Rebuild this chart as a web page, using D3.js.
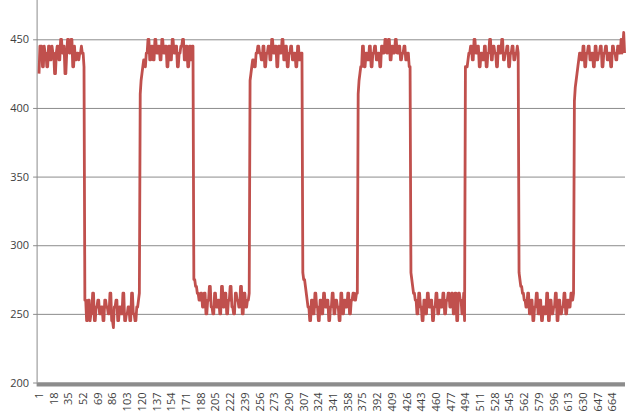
<!DOCTYPE html>
<html>
<head>
<meta charset="utf-8">
<script src="https://cdn.jsdelivr.net/npm/d3@7"></script>
<style>
  html, body { margin: 0; padding: 0; background: #fff; }
  svg { display: block; }
  text { font-family: "Open Sans", "DejaVu Sans", sans-serif; }
</style>
</head>
<body>
<svg id="chart" width="640" height="418"></svg>
<script>
// ---- data ----
const high1 = [425,445,445,445,430,430,445,440,440,430,430,445,445,435,435,445,440,440,425,425,440,445,445,435,435,450,450,440,445,445,425,425,440,450,450,440,440,450,450,430,430,445,435,435,440,440,435,440,440,445,440,440,430];
const low1 = [260,260,245,245,260,260,245,250,250,265,265,245,245,255,255,260,260,250,250,255,255,245,245,260,260,255,255,250,250,265,265,245,245,240,255,255,260,260,245,245,255,255,250,250,265,265,245,245,250,250,255,255,245,245,265,265,250,250,245,245,255,255,260,265];
const high2 = [410,420,425,430,435,435,430,440,440,450,450,435,435,445,445,435,435,450,450,440,440,445,445,435,435,450,450,440,440,445,445,430,430,445,445,435,435,450,450,440,440,445,445,430,430,440,440,445,445,450,450,435,435,445,445,430,430,445,445,435,445,445];
const low2 = [275,275,270,270,265,265,260,260,265,265,255,255,265,265,250,250,260,260,270,270,255,255,250,250,265,265,255,255,260,260,250,250,270,270,255,255,265,265,250,250,260,260,270,270,255,255,250,250,265,265,260,260,255,255,270,270,250,250,265,265,255,255,260,260,265];
const high3 = [420,425,430,435,435,430,430,440,440,445,445,440,440,435,435,445,445,430,430,440,440,445,445,435,435,450,450,440,440,445,445,430,430,445,445,440,440,450,450,435,435,445,445,430,430,440,440,445,445,435,435,440,440,430,430,445,445,435,435,440,440];
const low3 = [280,275,275,270,265,260,255,255,245,245,260,260,250,250,265,265,255,255,245,245,260,260,250,250,265,265,255,255,260,260,245,245,255,255,265,265,250,250,260,260,255,255,245,245,265,265,250,250,260,260,255,255,265,265,250,250,260,260,265,265,260,260,265,265];
const high4 = [410,420,425,430,430,445,445,430,430,440,440,435,435,445,445,430,430,440,440,445,445,435,435,440,440,430,430,445,445,440,440,450,450,440,440,450,450,435,435,445,445,440,440,450,450,440,440,445,445,435,435,440,440,445,445,435,435,440,440,430,430];
const low4 = [280,275,270,265,265,260,260,250,250,265,265,255,255,245,245,260,260,250,250,265,265,255,255,260,260,245,245,255,255,265,265,250,250,260,260,255,255,265,265,250,250,260,260,265,265,255,255,265,265,250,250,265,265,245,245,265,265,260,260,250,250,265,245];
const high5 = [430,430,430,435,440,440,445,445,435,435,450,450,440,440,445,445,430,430,440,440,435,435,445,445,430,430,440,440,450,450,435,435,445,445,440,440,430,430,445,445,440,440,450,450,435,435,440,440,445,445,430,430,440,440,445,445,435,435,440,440,445,440];
const low5 = [280,275,270,270,265,265,260,260,255,255,265,265,250,250,260,260,245,245,255,255,265,265,250,250,260,260,245,245,255,255,250,250,265,265,245,245,260,260,250,250,255,255,265,265,245,245,260,260,250,250,255,255,265,265,250,250,260,260,255,255,265,265,260,265];
const high6 = [405,415,420,425,430,435,440,440,435,435,445,445,430,430,440,440,445,445,435,435,440,440,430,430,445,445,435,435,440,440,445,445,430,430,440,440,445,445,435,435,440,440,430,430,445,445,440,440,435,435,445,445,440,440,450,440,445,455,440];

const values = [].concat(high1, low1, high2, low2, high3, low3, high4, low4, high5, low5, high6);
const categories = values.map((v, i) => i + 1);
const xTickLabels = categories.filter(c => (c - 1) % 17 === 0);
const yTicks = [200, 250, 300, 350, 400, 450];

// ---- layout ----
const svg = d3.select("#chart");
const left = 38.6, right = 625, yBottom = 382.5;
const pxPerUnit = 1.3728;

const x = d3.scaleBand().domain(categories).range([left, right]).padding(0);
const y = d3.scaleLinear().domain([200, 500]).range([yBottom, yBottom - 300 * pxPerUnit]);
const cx = c => x(c) + x.bandwidth() / 2;

// gridlines + y axis
const yAxis = d3.axisLeft(y).tickValues(yTicks).tickSize(-(right - left)).tickSizeOuter(0).tickPadding(8).tickFormat(d3.format("d"));
const gy = svg.append("g").attr("transform", `translate(${left - 1.5},0)`).call(yAxis);
gy.select(".domain").remove();
gy.selectAll(".tick line").attr("stroke", "#8c8c8c").attr("stroke-width", 1).attr("x1", -4).attr("x2", right - left + 1.5);
gy.selectAll(".tick text").attr("fill", "#404040").style("font-size", "11px");
// vertical axis line
svg.append("line").attr("x1", left - 1.5).attr("x2", left - 1.5).attr("y1", 0).attr("y2", yBottom)
  .attr("stroke", "#8c8c8c").attr("stroke-width", 1);

// series line
const line = d3.line().x((d, i) => cx(categories[i])).y(d => y(d));
svg.append("path").datum(values)
  .attr("fill", "none").attr("stroke", "#c0504d").attr("stroke-width", 2.8)
  .attr("stroke-linejoin", "round").attr("d", line);

// thick x axis bar
svg.append("rect").attr("x", left - 2).attr("y", yBottom).attr("width", right - left + 2).attr("height", 4)
  .attr("fill", "#8c8c8c");

// x axis labels
const xAxis = d3.axisBottom(x).tickValues(xTickLabels).tickSize(0).tickPadding(0);
const gx = svg.append("g").attr("transform", `translate(0,${yBottom + 4})`).call(xAxis);
gx.select(".domain").remove();
gx.selectAll(".tick text")
  .attr("fill", "#404040").style("font-size", "11px")
  .attr("text-anchor", "end")
  .attr("transform", "rotate(-90)")
  .attr("x", -6).attr("y", 0).attr("dy", "0.35em");
</script>
</body>
</html>
